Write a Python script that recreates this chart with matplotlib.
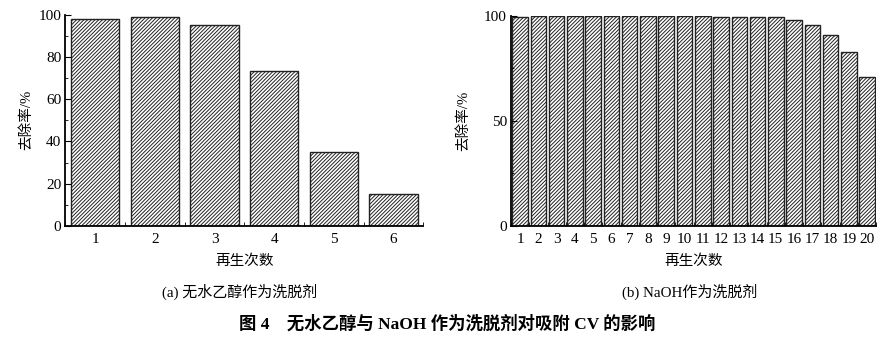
import matplotlib
matplotlib.use("Agg")
import matplotlib.pyplot as plt
import numpy as np
from matplotlib.ticker import MultipleLocator

plt.rcParams['font.family'] = ['Liberation Serif', 'Noto Sans CJK SC']
plt.rcParams['hatch.linewidth'] = 0.7
plt.rcParams['hatch.color'] = '#222222'

# (a) 无水乙醇
cycles_a = [1, 2, 3, 4, 5, 6]
removal_a = [98.2, 98.9, 95.4, 73.6, 34.8, 14.9]

# (b) NaOH
cycles_b = list(range(1, 21))
removal_b = [99.2, 99.6, 99.6, 99.6, 99.6, 99.7, 99.7, 99.7, 99.7, 99.6,
             99.6, 99.3, 99.3, 99.2, 99.2, 97.8, 95.6, 90.7, 82.6, 70.7]

ylabel = '去除率/%'
xlabel = '再生次数'
caption_a = '(a) 无水乙醇作为洗脱剂'
caption_b = '(b) NaOH作为洗脱剂'
title = '图 4　无水乙醇与 NaOH 作为洗脱剂对吸附 CV 的影响'

fig = plt.figure(figsize=(8.95, 3.39), dpi=100)
ax1 = fig.add_axes([0.073, 0.334, 0.400, 0.622])
ax2 = fig.add_axes([0.571, 0.334, 0.408, 0.620])


def style(ax):
    for s in ['top', 'right']:
        ax.spines[s].set_visible(False)
    for s in ['left', 'bottom']:
        ax.spines[s].set_linewidth(1.3)
    ax.tick_params(axis='both', which='both', direction='in', labelsize=11)
    ax.tick_params(axis='y', which='major', length=4, pad=3)
    ax.tick_params(axis='y', which='minor', length=2)
    ax.tick_params(axis='x', which='major', length=0, pad=5)
    ax.tick_params(axis='x', which='minor', length=3)


ax1.bar(cycles_a, removal_a, width=0.81, color='white', edgecolor='#222222',
        hatch='/////////', linewidth=1.0)
ax1.set_xlim(0.5, 6.5)
ax1.set_ylim(0, 100)
ax1.set_xticks(cycles_a)
ax1.xaxis.set_minor_locator(MultipleLocator(1, offset=0.5))
ax1.yaxis.set_major_locator(MultipleLocator(20))
ax1.yaxis.set_minor_locator(MultipleLocator(10))
style(ax1)
ax1.set_ylabel(ylabel, fontsize=10.5, labelpad=4)
ax1.set_xlabel(xlabel, fontsize=10.5, labelpad=6)

ax2.bar(cycles_b, removal_b, width=0.85, color='white', edgecolor='#222222',
        hatch='/////////', linewidth=1.0)
ax2.set_xlim(0.5, 20.5)
ax2.set_ylim(0, 100)
ax2.set_xticks(cycles_b)
ax2.xaxis.set_minor_locator(MultipleLocator(1, offset=0.5))
ax2.yaxis.set_major_locator(MultipleLocator(50))
ax2.yaxis.set_minor_locator(MultipleLocator(25))
style(ax2)
ax2.set_ylabel(ylabel, fontsize=10.5, labelpad=10)
ax2.set_xlabel(xlabel, fontsize=10.5, labelpad=6)

fig.text(0.268, 0.138, caption_a, ha='center', va='center', fontsize=10.8)
fig.text(0.771, 0.138, caption_b, ha='center', va='center', fontsize=10.8)
fig.text(0.500, 0.045, title, ha='center', va='center', fontsize=12.5, fontweight='bold')

fig.savefig('out.png', dpi=100)
